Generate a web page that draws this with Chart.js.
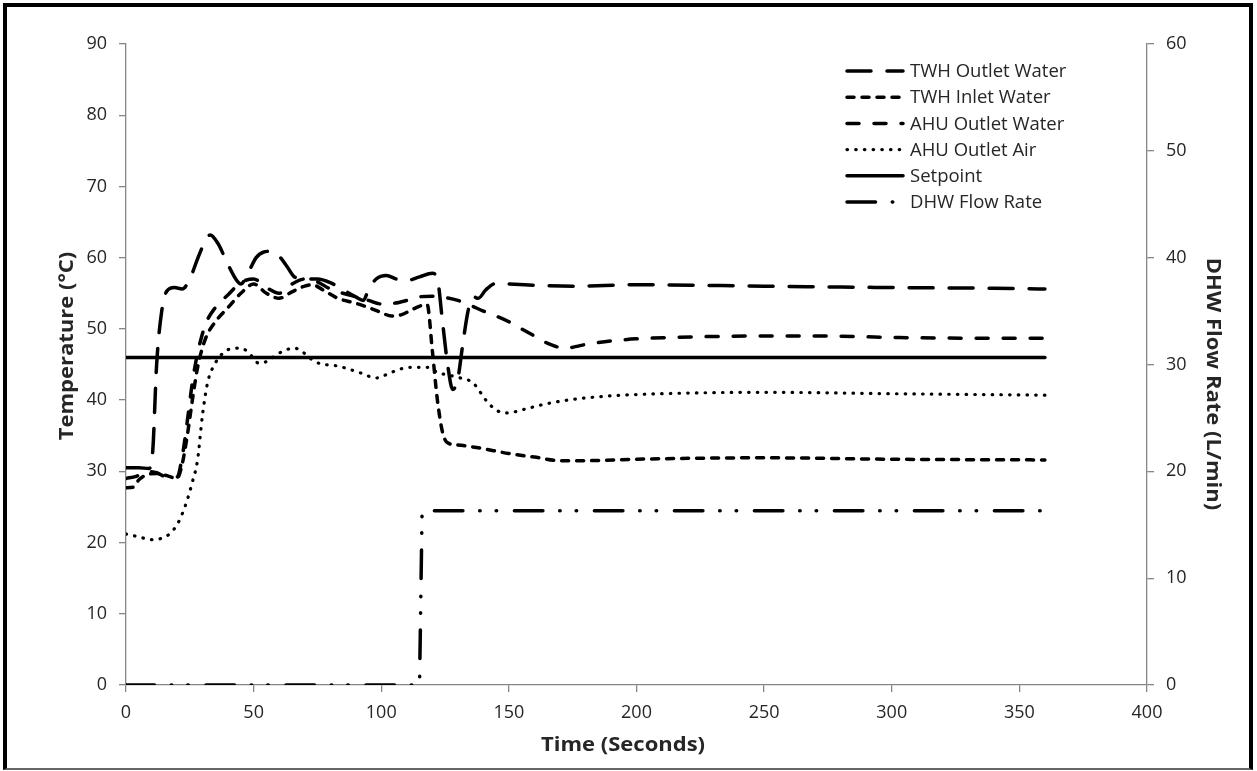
<!DOCTYPE html>
<html>
<head>
<meta charset="utf-8">
<script src="https://cdn.jsdelivr.net/npm/chart.js@4/dist/chart.umd.min.js"></script>
<style>
  html, body { margin: 0; padding: 0; background: #fff; }
  #wrap { position: relative; width: 1257px; height: 771px; overflow: hidden; }
  #c { position: absolute; left: 0; top: 0; }
  #frame { position: absolute; left: 3px; top: 3px; width: 1250px; height: 767px; box-sizing: border-box;
           border: 4px solid #000; border-bottom: 2px solid #666; pointer-events: none; }
</style>
</head>
<body>
<div id="wrap">
  <canvas id="c" width="1257" height="771"></canvas>
  <div id="frame"></div>
</div>
<script>
// Time axis ticks (seconds) and the two value axes
const timeTicks = [0, 50, 100, 150, 200, 250, 300, 350, 400];
const tempTicks = [0, 10, 20, 30, 40, 50, 60, 70, 80, 90];
const flowTicks = [0, 10, 20, 30, 40, 50, 60];

// TWH outlet water temperature (°C)
const twhOutletTime = [0, 5, 9, 10.5, 12, 14, 16, 19, 22, 25, 28, 31, 33, 36, 40, 43, 45, 48, 51, 54, 57, 60, 63, 66, 70, 75, 80, 85, 90, 93, 95, 98, 102, 106, 110, 115, 120, 122, 124, 126, 128, 130, 132, 134, 136, 138, 141, 145, 150, 175, 200, 250, 300, 340, 360];
const twhOutletTemp = [30.5, 30.5, 30.4, 33, 45, 52.5, 55.3, 55.8, 55.6, 57, 59.8, 62.3, 63.2, 62, 59, 57, 56.3, 58, 60, 60.8, 60.9, 60.2, 58.8, 57.3, 57, 57, 56.5, 55.5, 54.5, 54, 55.5, 57, 57.5, 57, 56.8, 57.3, 57.8, 57, 51, 45, 41.5, 43, 48, 52.5, 54.5, 54.3, 55.5, 56.4, 56.3, 56, 56.2, 56, 55.8, 55.7, 55.6];

// TWH inlet water temperature (°C)
const twhInletTime = [0, 3, 5, 8, 12, 16, 20, 22, 24, 26, 28, 31, 35, 40, 45, 50, 55, 60, 65, 70, 73, 77, 83, 90, 95, 100, 104, 108, 112, 116, 118, 120, 122, 124, 126, 130, 138, 150, 160, 170, 180, 200, 250, 300, 360];
const twhInletTemp = [27.7, 27.8, 28.8, 29.5, 29.7, 29.4, 29, 31, 35, 40, 44.5, 48.5, 51, 53, 55, 56.3, 55, 54.3, 55.2, 56, 56.2, 55.5, 54.3, 53.6, 53, 52.3, 51.8, 52, 52.7, 53.3, 53.4, 47, 40, 35.5, 34, 33.7, 33.3, 32.5, 32, 31.5, 31.5, 31.7, 31.9, 31.7, 31.6];

// AHU outlet water temperature (°C)
const ahuWaterTime = [0, 4, 8, 12, 16, 20, 22, 24, 26, 28, 31, 35, 40, 45, 50, 55, 60, 65, 70, 75, 80, 85, 90, 95, 100, 105, 110, 115, 120, 125, 130, 135, 140, 145, 150, 155, 160, 165, 172, 180, 190, 200, 225, 250, 275, 300, 330, 360];
const ahuWaterTemp = [29, 29.3, 30, 29.8, 29.2, 29.2, 32, 37, 42.5, 46.5, 50.5, 53, 54.8, 56.5, 57, 55.8, 55, 56.3, 57, 56.6, 55.6, 55, 54.5, 54, 53.5, 53.6, 54, 54.5, 54.6, 54.4, 54, 53.3, 52.5, 51.8, 51, 50, 49, 48, 47.3, 47.8, 48.3, 48.6, 48.9, 49, 49, 48.8, 48.7, 48.7];

// AHU outlet air temperature (°C)
const ahuAirTime = [0, 5, 10, 14, 17, 20, 22, 24, 26, 28, 30, 32, 35, 38, 41, 45, 48, 52, 55, 60, 66, 69, 74, 84, 92, 98, 104, 111, 118, 122, 130, 136, 141, 145, 149, 158, 165, 175, 190, 210, 250, 300, 360];
const ahuAirTemp = [21.2, 20.8, 20.4, 20.6, 21.2, 22.5, 24, 26, 28.5, 31.5, 38, 42.5, 45.2, 46.6, 47.2, 47.3, 46.7, 45.2, 45.4, 46.6, 47.3, 46.8, 45.4, 44.7, 43.8, 43.1, 43.9, 44.6, 44.6, 43.9, 43.2, 42.4, 40, 38.6, 38.2, 38.9, 39.5, 40.1, 40.6, 40.9, 41.1, 40.9, 40.7];

// Setpoint (°C)
const setpointTime = [0, 360];
const setpointTemp = [46, 46];

// DHW flow rate (L/min), right axis
const flowTime = [0, 115, 116, 360];
const flowRate = [0, 0, 16.3, 16.3];

const toPoints = (xs, ys) => xs.map((x, i) => ({ x, y: ys[i] }));

const AXIS_GREY = '#868686';
const TEXT = '#262626';
const FONT = '"Open Sans", "Noto Sans", sans-serif';

function lineSet(label, xs, ys, dash, width, axis, smooth) {
  return {
    label,
    data: toPoints(xs, ys),
    yAxisID: axis,
    borderColor: '#000',
    backgroundColor: '#000',
    borderWidth: width,
    borderDash: dash,
    borderCapStyle: 'round',
    borderJoinStyle: 'round',
    pointRadius: 0,
    pointHoverRadius: 0,
    fill: false,
    cubicInterpolationMode: smooth ? 'monotone' : 'default',
    tension: 0
  };
}

const datasets = [
  lineSet('TWH Outlet Water', twhOutletTime, twhOutletTemp, [24, 16], 3.5, 'y', true),
  lineSet('TWH Inlet Water', twhInletTime, twhInletTemp, [7, 8], 3.5, 'y', true),
  lineSet('AHU Outlet Water', ahuWaterTime, ahuWaterTemp, [12, 15], 3.5, 'y', true),
  lineSet('AHU Outlet Air', ahuAirTime, ahuAirTemp, [0.5, 8.2], 3.2, 'y', true),
  lineSet('Setpoint', setpointTime, setpointTemp, [], 3.5, 'y', false),
  lineSet('DHW Flow Rate', flowTime, flowRate, [28.5, 16.75, 0.5, 16, 0.5, 17.75], 3.5, 'y2', false)
];

// draws a bold title centred at (x, y), rotated by angle, widened slightly
function title(ctx, text, x, y, angle) {
  ctx.save();
  ctx.translate(x, y);
  ctx.rotate(angle);
  ctx.scale(1.1, 1);
  ctx.fillText(text, 0, 0);
  ctx.restore();
}

// Legend block inside the plot (top right) and the three axis titles
const annotate = {
  id: 'annotate',
  afterDraw(chart) {
    const ctx = chart.ctx;
    ctx.save();
    const x0 = 847, x1 = 903, top = 71, row = 26.2;
    chart.data.datasets.forEach((ds, i) => {
      const y = top + i * row;
      ctx.beginPath();
      ctx.setLineDash(ds.borderDash);
      ctx.lineCap = 'round';
      ctx.lineWidth = ds.borderWidth;
      ctx.strokeStyle = ds.borderColor;
      ctx.moveTo(x0, y);
      ctx.lineTo(x1, y);
      ctx.stroke();
      ctx.setLineDash([]);
      ctx.fillStyle = TEXT;
      ctx.font = '18.5px ' + FONT;
      ctx.textAlign = 'left';
      ctx.textBaseline = 'middle';
      ctx.fillText(ds.label, 910, y + 1);
    });

    ctx.font = 'bold 20px ' + FONT;
    ctx.fillStyle = TEXT;
    ctx.textAlign = 'center';
    ctx.textBaseline = 'middle';
    title(ctx, 'Time (Seconds)', 623, 745, 0);
    title(ctx, 'Temperature (°C)', 67, 346, -Math.PI / 2);
    title(ctx, 'DHW Flow Rate (L/min)', 1213, 384, Math.PI / 2);

    ctx.restore();
  }
};

function axisStyle(ticksArr, padding) {
  return {
    min: ticksArr[0],
    max: ticksArr[ticksArr.length - 1],
    afterBuildTicks(scale) { scale.ticks = ticksArr.map(v => ({ value: v })); },
    ticks: { color: TEXT, font: { family: FONT, size: 18 }, padding },
    grid: { display: true, drawOnChartArea: false, drawTicks: true, tickLength: 7, color: AXIS_GREY, lineWidth: 1.3 },
    border: { display: true, color: AXIS_GREY, width: 1.3 }
  };
}

new Chart(document.getElementById('c'), {
  type: 'line',
  data: { datasets },
  options: {
    responsive: false,
    animation: false,
    devicePixelRatio: 1,
    layout: { padding: { top: 44, left: 0, right: 0, bottom: 0 } },
    plugins: { legend: { display: false }, tooltip: { enabled: false } },
    scales: {
      x: Object.assign({ type: 'linear', position: 'bottom', afterFit(s) { s.height = 86; } }, axisStyle(timeTicks, 10)),
      y: Object.assign({ type: 'linear', position: 'left', afterFit(s) { s.width = 126; } }, axisStyle(tempTicks, 12)),
      y2: Object.assign({ type: 'linear', position: 'right', afterFit(s) { s.width = 110; } }, axisStyle(flowTicks, 12))
    }
  },
  plugins: [annotate]
});
</script>
</body>
</html>
